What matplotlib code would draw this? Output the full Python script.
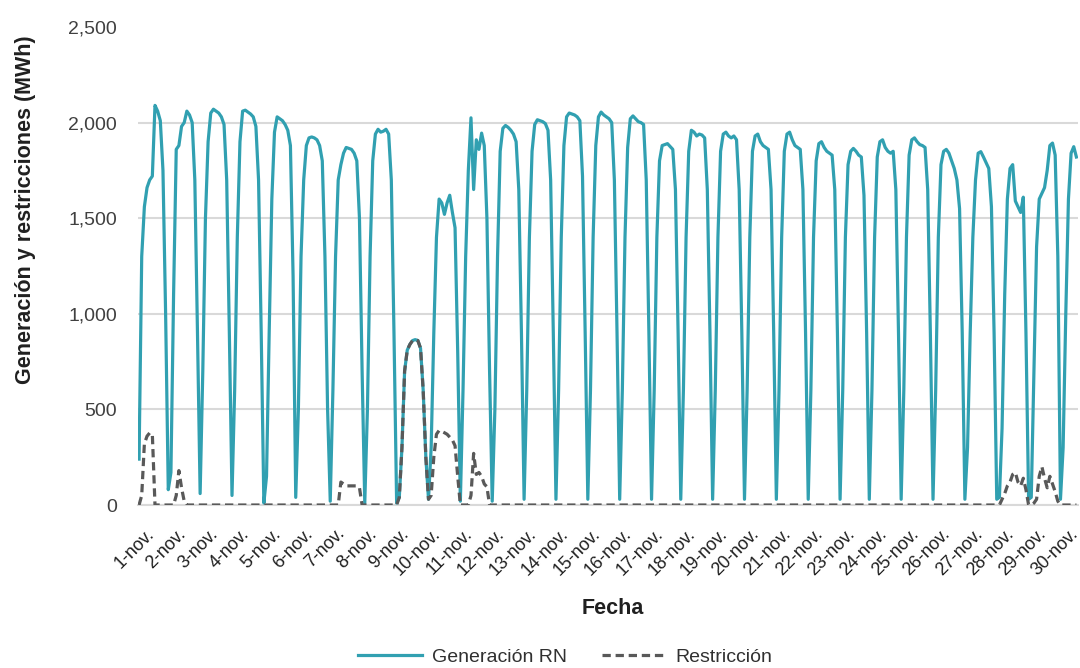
import numpy as np
import matplotlib
matplotlib.use("Agg")
import matplotlib.pyplot as plt

plt.rcParams['font.family'] = ['Liberation Sans', 'DejaVu Sans']

# ---------------- data (MWh, one row per day, daylight points, last = night low) ----
days = [f"{d}-nov." for d in range(1, 31)]

gen_days = [
    [240, 1300, 1560, 1660, 1700, 1720, 2090, 2060, 2010, 1750, 1000, 80],          # 1
    [170, 1100, 1860, 1880, 1980, 2000, 2060, 2040, 2000, 1700, 900, 60],           # 2
    [700, 1500, 1900, 2050, 2070, 2060, 2050, 2030, 1990, 1700, 900, 50],           # 3
    [600, 1400, 1900, 2060, 2065, 2055, 2045, 2030, 1980, 1700, 900, 10],           # 4
    [150, 900, 1600, 1950, 2030, 2020, 2010, 1990, 1960, 1880, 1200, 40],           # 5
    [500, 1300, 1700, 1880, 1920, 1925, 1920, 1910, 1880, 1800, 1300, 500, 20],     # 6
    [600, 1300, 1700, 1780, 1840, 1870, 1865, 1860, 1840, 1800, 1500, 700, 10],     # 7
    [500, 1300, 1800, 1940, 1965, 1950, 1955, 1965, 1940, 1700, 900, 10],           # 8
    [40, 300, 700, 810, 840, 860, 865, 860, 820, 600, 250, 30],                     # 9
    [300, 900, 1400, 1600, 1580, 1520, 1580, 1620, 1530, 1450, 800, 20],            # 10
    [600, 1300, 1750, 2025, 1650, 1910, 1860, 1945, 1880, 1500, 700, 20],           # 11
    [500, 1300, 1850, 1970, 1985, 1975, 1960, 1940, 1900, 1650, 900, 30],           # 12
    [600, 1400, 1850, 1990, 2015, 2010, 2005, 1995, 1960, 1700, 900, 30],           # 13
    [600, 1400, 1880, 2030, 2050, 2045, 2040, 2030, 2010, 1720, 900, 30],           # 14
    [600, 1400, 1880, 2030, 2055, 2040, 2030, 2020, 2000, 1700, 900, 30],           # 15
    [600, 1400, 1870, 2020, 2035, 2020, 2005, 2000, 1990, 1700, 900, 30],           # 16
    [600, 1400, 1800, 1880, 1885, 1890, 1875, 1860, 1650, 900, 30],                 # 17
    [600, 1400, 1850, 1960, 1950, 1930, 1940, 1935, 1920, 1650, 900, 30],           # 18
    [600, 1400, 1850, 1940, 1950, 1930, 1920, 1930, 1910, 1650, 900, 30],           # 19
    [600, 1400, 1850, 1930, 1940, 1900, 1880, 1870, 1860, 1650, 900, 30],           # 20
    [600, 1400, 1850, 1940, 1950, 1910, 1880, 1870, 1860, 1650, 900, 30],           # 21
    [600, 1400, 1800, 1890, 1900, 1870, 1850, 1840, 1830, 1650, 900, 30],           # 22
    [600, 1400, 1780, 1850, 1865, 1850, 1830, 1820, 1620, 900, 30],                 # 23
    [600, 1400, 1820, 1900, 1910, 1870, 1850, 1840, 1850, 1650, 900, 30],           # 24
    [600, 1400, 1830, 1910, 1920, 1900, 1885, 1880, 1870, 1650, 900, 30],           # 25
    [600, 1400, 1780, 1850, 1860, 1840, 1800, 1760, 1700, 1550, 900, 30],           # 26
    [300, 900, 1400, 1700, 1840, 1848, 1820, 1790, 1760, 1560, 900, 30],            # 27
    [40, 400, 1100, 1600, 1760, 1780, 1590, 1560, 1530, 1610, 900, 30],             # 28
    [40, 700, 1350, 1600, 1630, 1660, 1750, 1880, 1893, 1830, 1300, 30],            # 29
    [300, 1000, 1600, 1840, 1874, 1820],                                            # 30
]

restr_days = [
    [0, 50, 320, 360, 377, 370, 0, 0, 0, 0, 0, 0],                                  # 1
    [0, 0, 50, 180, 90, 20, 0, 0, 0, 0, 0, 0],                                      # 2
    [0] * 12, [0] * 12, [0] * 12,                                                   # 3-5
    [0] * 13,                                                                       # 6
    [0, 0, 0, 120, 110, 100, 100, 100, 100, 100, 90, 0, 0],                         # 7
    [0] * 12,                                                                       # 8
    [40, 300, 700, 810, 840, 860, 865, 860, 820, 600, 250, 30],                     # 9
    [50, 250, 370, 390, 385, 378, 370, 355, 340, 310, 150, 0],                      # 10
    [0, 0, 0, 50, 270, 160, 170, 150, 110, 95, 0, 0],                               # 11
    [0] * 12, [0] * 12, [0] * 12, [0] * 12, [0] * 12,                               # 12-16
    [0] * 11,                                                                       # 17
    [0] * 12, [0] * 12, [0] * 12, [0] * 12, [0] * 12,                               # 18-22
    [0] * 11,                                                                       # 23
    [0] * 12, [0] * 12, [0] * 12, [0] * 12,                                         # 24-27
    [0, 30, 60, 100, 120, 160, 170, 120, 100, 140, 80, 0],                          # 28
    [0, 10, 30, 150, 200, 140, 90, 150, 110, 70, 20, 0],                            # 29
    [0, 0, 0, 0, 0, 0],                                                             # 30
]

generacion = np.concatenate([np.array(r, float) for r in gen_days])
restriccion = np.concatenate([np.array(r, float) for r in restr_days])
x = np.arange(len(generacion))

y_ticks = [0, 500, 1000, 1500, 2000, 2500]

# ---------------- figure ----------------
W, H = 1080, 668
fig = plt.figure(figsize=(W / 100, H / 100), dpi=100)
ax = fig.add_axes([138 / W, 1 - 505 / H, 940 / W, 478 / H])

teal = '#31A0B1'
dark = '#595959'
grid_c = '#D9D9D9'

ax.plot(x, generacion, color=teal, lw=2.3, solid_joinstyle='round',
        label='Generación RN', zorder=3)
ax.plot(x, restriccion, color=dark, lw=2.3, dashes=(2.6, 1.5),
        label='Restricción', zorder=4)

ax.set_xlim(-0.4, len(x) - 0.4)
ax.set_ylim(0, 2500)
ax.set_yticks(y_ticks)
ax.set_yticklabels([f"{v:,}" for v in y_ticks])
ax.yaxis.grid(True, color=grid_c, lw=1.5, zorder=0)
ax.get_ygridlines()[-1].set_visible(False)
ax.set_axisbelow(True)

tick_pos = [2.3 + 12 * i for i in range(len(days))]
ax.set_xticks(tick_pos)
ax.set_xticklabels(days, rotation=45, ha='right', va='top',
                   rotation_mode='anchor')

for s in ['top', 'right', 'left']:
    ax.spines[s].set_visible(False)
ax.spines['bottom'].set_color(grid_c)
ax.spines['bottom'].set_linewidth(1.5)

ax.tick_params(axis='y', length=0, pad=15, labelsize=14, labelcolor='#404040')
ax.tick_params(axis='x', length=0, pad=14.5, labelsize=13, labelcolor='#202020')

fig.text(26 / W, 1 - 210 / H, 'Generación y restricciones (MWh)', rotation=90,
         ha='center', va='center', fontsize=15.5, fontweight='bold', color='#202020')
fig.text(613 / W, 1 - 608 / H, 'Fecha', ha='center', va='center',
         fontsize=15.5, fontweight='bold', color='#202020')

fig.legend(loc='center', bbox_to_anchor=(565 / W, 1 - 657 / H), ncol=2,
           frameon=False, fontsize=14, handlelength=3.3, handletextpad=0.5,
           columnspacing=1.8, labelcolor='#303030')

fig.savefig('out.png', dpi=100)
